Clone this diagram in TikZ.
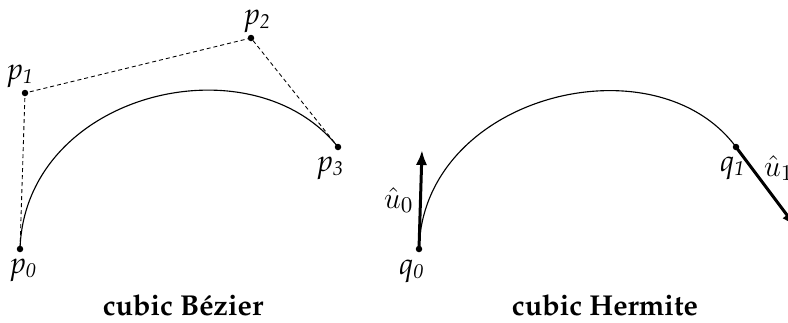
\documentclass[tikz,border=0pt]{standalone}
\usepackage[T1]{fontenc}
\usepackage{palatino}
\usetikzlibrary{arrows.meta}
\begin{document}
\begin{tikzpicture}[x=0.4pt,y=-0.4pt,
  dot/.style={circle,fill,inner sep=0,minimum size=2.6pt},
  lbl/.style={inner sep=0,font=\fontsize{12}{14}\selectfont},
  mlbl/.style={inner sep=0,font=\fontsize{13}{15}\selectfont},
  ctrl/.style={line width=0.35pt, dash pattern=on 1.6pt off 1.2pt},
  curve/.style={line width=0.45pt},
  vec/.style={line width=1.2pt, -{Latex[length=6pt,width=4.5pt]}},
  title/.style={inner sep=0,font=\fontsize{11.5}{13}\selectfont\bfseries}]
\useasboundingbox (0,0) rectangle (788,322);
% Bezier
\node[dot] (p0) at (20,249) {};
\node[dot] (p1) at (25,93) {};
\node[dot] (p2) at (251,38) {};
\node[dot] (p3) at (338,147) {};
\draw[ctrl] (p0.center) -- (p1.center) -- (p2.center) -- (p3.center);
\draw[curve] (p0.center) .. controls (p1.center) and (p2.center) .. (p3.center);
\node[lbl] (lp0) at (24,270) {\textit{p\textsubscript{0}}};
\node[lbl] (lp1) at (21,76) {\textit{p\textsubscript{1}}};
\node[lbl] (lp2) at (258,21) {\textit{p\textsubscript{2}}};
\node[lbl] (lp3) at (331,168) {\textit{p\textsubscript{3}}};
\node[title] (tb) at (183,305) {cubic B\'ezier};
% Hermite
\node[dot] (q0) at (419,249) {};
\node[dot] (q1) at (736,147) {};
\coordinate (c0) at (423,95);
\coordinate (c1) at (655,38);
\coordinate (u0e) at (422,150);
\coordinate (u1e) at (796,227);
\draw[curve] (q0.center) .. controls (c0) and (c1) .. (q1.center);
\draw[vec] (q0.center) -- (u0e);
\draw[vec] (q1.center) -- (u1e);
\node[lbl] (lq0) at (412,271) {\textit{q\textsubscript{0}}};
\node[lbl] (lq1) at (733,168) {\textit{q\textsubscript{1}}};
\node[mlbl] (lu0) at (399,200) {$\hat{u}_0$};
\node[mlbl] (lu1) at (779,168) {$\hat{u}_1$};
\node[title] (th) at (605,305) {cubic Hermite};
\end{tikzpicture}
\end{document}
